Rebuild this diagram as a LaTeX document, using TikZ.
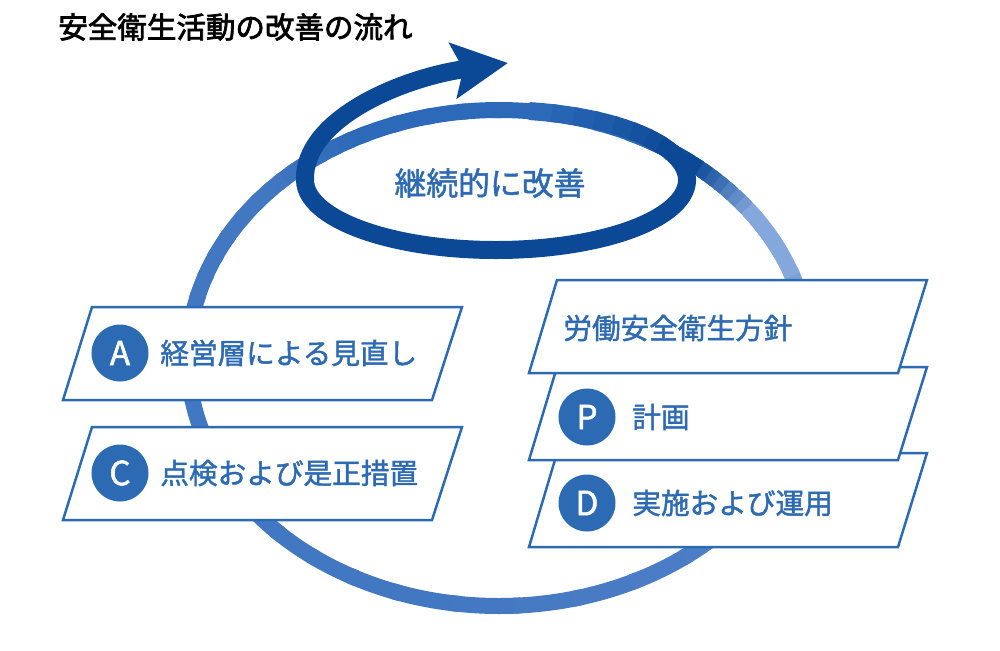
\documentclass[tikz,border=0pt]{standalone}
\usepackage{fontspec}
\setmainfont{Noto Sans CJK JP}[FakeBold=1.5]
\newfontfamily\titlefont{Noto Sans CJK JP}[FakeBold=2.5]
\usepackage{tikz}
\usetikzlibrary{arrows.meta}
\definecolor{cLight}{HTML}{84A8DB}
\definecolor{cMid}{HTML}{4277C2}
\definecolor{cTop}{HTML}{2C69B8}
\definecolor{cDark}{HTML}{0B4896}
\definecolor{cLine}{HTML}{2D6AB4}
\colorlet{cMidL}{cMid!80!cLight}
\tikzset{
    ring/.style = {line width=0.32cm},
    darkband/.style = {line width=0.36cm, draw=cDark},
    panel/.style = {draw=cLine, line width=0.05cm, fill=white, line join=miter},
    badge/.style = {circle, fill=cLine, text=white, minimum size=1.14cm, inner sep=0pt, font=\fontsize{19}{19}\selectfont},
    boxtext/.style = {anchor=west, inner sep=0pt, text=cLine, font=\fontsize{16.3}{18}\selectfont}
}

\begin{document}
\begin{tikzpicture}[x=0.02cm, y=0.02cm]
    \useasboundingbox (0,0) rectangle (1000,-650);
    % Titulo
    \node (title) [anchor=west, inner sep=0pt, font=\titlefont\fontsize{16.8}{18}\selectfont] at (58,-27) {安全衛生活動の改善の流れ};

    % Anillo grande (degradado por tramos)
    \coordinate (ringc) at (499,-358);
    \foreach \a/\b/\ca/\cb in {-180/-110/cMid/cMid, -110/-20/cMid/cMidL, -20/25/cMidL/cLight,
                               25/35/cLight/cLight, 35/52/cLight/cDark, 52/64/cDark/cTop,
                               64/115/cTop/cTop, 115/140/cTop/cMid, 140/180/cMid/cMid} {
        \foreach \i in {0,...,7} {
            \pgfmathsetmacro\s{\a+\i*(\b-\a)/8}
            \pgfmathtruncatemacro\p{100-\i*100/7}
            \draw[ring, \ca!\p!\cb] ([shift={(\s:311 and 248)}]ringc) arc[start angle=\s, end angle=\s+(\b-\a)/8+1.5, x radius=311, y radius=248];
        }
    }

    % Lazo y flecha
    \coordinate (loopc) at (496,-180);
    \foreach \i in {0,...,7} {
        \pgfmathsetmacro\s{80-\i*7}
        \pgfmathtruncatemacro\p{100-\i*100/7}
        \draw[darkband, draw=cTop!\p!cDark] ([shift={(\s:191 and 70)}]loopc) arc[start angle=\s, end angle=\s-8.5, x radius=191, y radius=70];
    }
    \draw[darkband, -{Stealth[length=1.1cm, width=1.1cm, inset=0.2cm]}]
        ([shift={(24:191 and 70)}]loopc) arc[start angle=24, end angle=-180, x radius=191, y radius=70]
        .. controls (303,-120) and (400,-78) .. (508,-63);
    \node (kaizen) [text=cLine, font=\fontsize{18.1}{20}\selectfont] at (490,-183) {継続的に改善};

    % Paneles derecha
    \draw[panel] (529,-547) -- (898,-547) -- (927,-453) -- (557,-453) -- cycle;
    \draw[panel] (529,-460) -- (898,-460) -- (927,-367) -- (557,-367) -- cycle;
    \draw[panel] (529,-373) -- (898,-373) -- (927,-280) -- (557,-280) -- cycle;
    % Paneles izquierda
    \draw[panel] (63,-400) -- (432,-400) -- (462,-307) -- (92,-307) -- cycle;
    \draw[panel] (63,-520) -- (432,-520) -- (462,-427) -- (92,-427) -- cycle;

    % Circulos
    \node (cA) [badge] at (120,-353) {A};
    \node (cC) [badge] at (120,-473) {C};
    \node (cP) [badge] at (587,-417) {P};
    \node (cD) [badge] at (587,-503) {D};

    % Textos
    \node (tA) [boxtext] at (160,-353) {経営層による見直し};
    \node (tC) [boxtext] at (160,-473) {点検および是正措置};
    \node (tPol) [boxtext] at (563,-328) {労働安全衛生方針};
    \node (tP) [boxtext] at (632,-417) {計画};
    \node (tD) [boxtext] at (632,-503) {実施および運用};
\end{tikzpicture}
\end{document}
